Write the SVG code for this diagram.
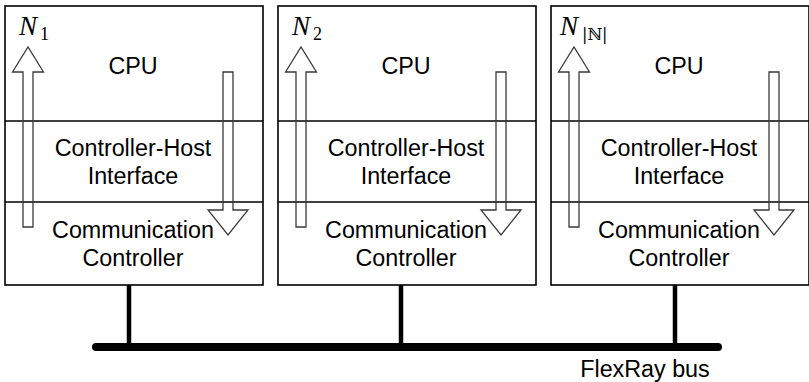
<svg xmlns="http://www.w3.org/2000/svg" width="809" height="382" viewBox="0 0 809 382">
  <defs>
    <style>
      .box { fill: #fff; stroke: #000; stroke-width: 1.6; }
      .div { stroke: #000; stroke-width: 1.4; }
      .flow { fill: none; stroke: #3a3a3a; stroke-width: 1.3; stroke-linejoin: miter; }
      .lbl { font-family: "Liberation Sans", Arial, sans-serif; font-size: 23.3px; fill: #000; text-anchor: middle; }
      .nm { font-family: "Liberation Serif", "Times New Roman", serif; font-style: italic; font-size: 27px; fill: #000; }
      .sub { font-family: "Liberation Serif", "DejaVu Serif", serif; font-size: 18px; fill: #000; }
      .tap { stroke: #000; stroke-width: 4.5; }
      .bus { stroke: #000; stroke-width: 8; stroke-linecap: round; }
    </style>
    <!-- one ECU: box with three layers and the up/down data-flow arrows -->
    <g id="ecu">
      <rect class="box" x="0" y="0" width="258" height="279"/>
      <line class="div" x1="0" y1="115" x2="258" y2="115"/>
      <line class="div" x1="0" y1="196" x2="258" y2="196"/>
      <!-- upward hollow arrow -->
      <polygon class="flow" points="18,221 18,66 7.5,66 23,41 38.5,66 28,66 28,221"/>
      <!-- downward hollow arrow -->
      <polygon class="flow" points="218,66 228,66 228,204 243,204 223,229 203,204 218,204"/>
      <text class="lbl" x="128" y="68">CPU</text>
      <text class="lbl" x="128" y="150">Controller-Host</text>
      <text class="lbl" x="128" y="178">Interface</text>
      <text class="lbl" x="128" y="232">Communication</text>
      <text class="lbl" x="128" y="260">Controller</text>
    </g>
  </defs>

  <g id="node1">
    <use href="#ecu" x="5" y="6"/>
    <text class="nm" x="19" y="35">N</text>
    <text class="sub" x="40" y="40">1</text>
  </g>

  <g id="node2">
    <use href="#ecu" x="278" y="6"/>
    <text class="nm" x="292" y="35">N</text>
    <text class="sub" x="313" y="40">2</text>
  </g>

  <g id="node3">
    <use href="#ecu" x="551" y="6"/>
    <text class="nm" x="560" y="35">N</text>
    <text class="sub" x="582" y="40" style="font-family:'DejaVu Serif',serif;font-size:16px">|ℕ|</text>
  </g>

  <g id="connectors">
    <line class="tap" x1="129" y1="285" x2="129" y2="347"/>
    <line class="tap" x1="401" y1="285" x2="401" y2="347"/>
    <line class="tap" x1="675" y1="285" x2="675" y2="347"/>
    <line class="bus" x1="96" y1="347" x2="718" y2="347"/>
  </g>

  <g id="bus-label">
    <text class="lbl" x="645" y="377">FlexRay bus</text>
  </g>
</svg>
